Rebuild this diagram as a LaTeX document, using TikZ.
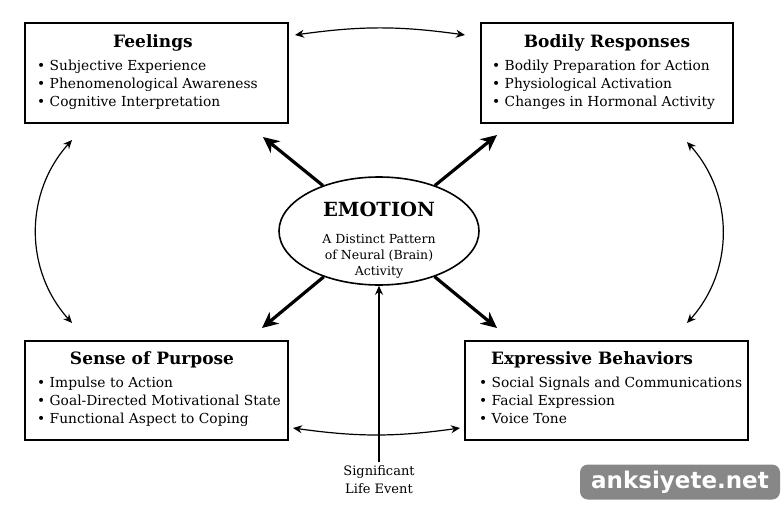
\documentclass[tikz,border=0pt]{standalone}
\usepackage{fontspec}
\setmainfont{DejaVu Serif}
\newfontfamily\markfont{DejaVu Sans}
\usetikzlibrary{arrows.meta,shapes.geometric}

\tikzset{
  panel/.style={draw, line width=1.6pt, inner sep=0pt},
  heading/.style={font=\fontsize{17}{20}\selectfont\bfseries},
  items/.style={font=\fontsize{13.8}{18}\selectfont, align=left, anchor=north west, inner sep=0pt},
  bigarrow/.style={line width=3.2pt, -{Stealth[length=16pt,width=15pt,inset=5pt]}},
  linkarrow/.style={line width=1.2pt, {Stealth[length=9pt,width=8pt,inset=3pt]}-{Stealth[length=9pt,width=8pt,inset=3pt]}},
}

\begin{document}
\begin{tikzpicture}[x=1pt,y=-1pt]
\useasboundingbox (0,0) rectangle (782,506);

% the four panels
\node[panel, minimum width=263, minimum height=100] (feel) at (156.5,73) {};
\node[panel, minimum width=252, minimum height=100] (body) at (607,73) {};
\node[panel, minimum width=263, minimum height=99] (purp) at (156.5,390.5) {};
\node[panel, minimum width=283, minimum height=99] (expr) at (606.5,390.5) {};

% panel headings
\node[heading] (feelhead) at (153,43) {Feelings};
\node[heading] (bodyhead) at (607,43) {Bodily Responses};
\node[heading] (purphead) at (152,360) {Sense of Purpose};
\node[heading] (exprhead) at (592,360) {Expressive Behaviors};

% bullet lists
\node[items] (feellist) at (37,60) {\textbullet\ Subjective Experience\\ \textbullet\ Phenomenological Awareness\\ \textbullet\ Cognitive Interpretation};
\node[items] (bodylist) at (492,60) {\textbullet\ Bodily Preparation for Action\\ \textbullet\ Physiological Activation\\ \textbullet\ Changes in Hormonal Activity};
\node[items] (purplist) at (37,377) {\textbullet\ Impulse to Action\\ \textbullet\ Goal-Directed Motivational State\\ \textbullet\ Functional Aspect to Coping};
\node[items] (exprlist) at (479,377) {\textbullet\ Social Signals and Communications\\ \textbullet\ Facial Expression\\ \textbullet\ Voice Tone};

% centre
\node[ellipse, draw, line width=1.6pt, minimum width=200, minimum height=108] (emo) at (379,231) {};
\node[font=\fontsize{19.5}{24}\selectfont\bfseries] (emohead) at (379,209) {EMOTION};
\node[font=\fontsize{12.5}{16}\selectfont, align=center] (emotext) at (379,256) {A Distinct Pattern\\ of Neural (Brain)\\ Activity};

% trigger
\node[font=\fontsize{13}{18}\selectfont, align=center] (event) at (379,480) {Significant\\ Life Event};
\draw[line width=1.2pt, -{Stealth[length=9pt,width=8pt,inset=3pt]}] (event.north) -- (emo.south);

% arrow tips
\coordinate (tipfeel) at (263,137);
\coordinate (tipbody) at (497,135);
\coordinate (tippurp) at (262,328);
\coordinate (tipexpr) at (497,328);
\draw[bigarrow] (emo) -- (tipfeel);
\draw[bigarrow] (emo) -- (tipbody);
\draw[bigarrow] (emo) -- (tippurp);
\draw[bigarrow] (emo) -- (tipexpr);

% links between panels
\coordinate (topL) at (295,35);
\coordinate (topR) at (465,35);
\coordinate (botL) at (293,428);
\coordinate (botR) at (460,428);
\coordinate (leftT) at (72,140);
\coordinate (leftB) at (72,323);
\coordinate (rightT) at (687,142);
\coordinate (rightB) at (687,323);
\draw[linkarrow] (topL) to[bend left=8] (topR);
\draw[linkarrow] (botL) to[bend right=8] (botR);
\draw[linkarrow] (leftT) to[bend right=42] (leftB);
\draw[linkarrow] (rightT) to[bend left=42] (rightB);

% site mark
\node[fill=black!47, rounded corners=8pt, minimum width=200, minimum height=35, text=white,
  font=\markfont\bfseries\fontsize{23}{24}\selectfont] (mark) at (680,482) {anksiyete.net};
\end{tikzpicture}
\end{document}
